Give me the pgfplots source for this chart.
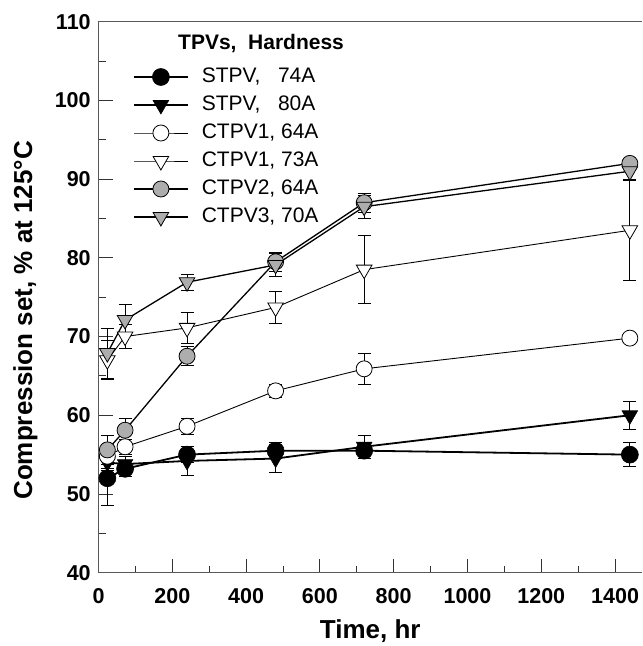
\documentclass[border=0pt]{standalone}
\usepackage{fontspec}
\setmainfont{Liberation Sans}
\usepackage{pgfplots}
\usepackage{pgfplotstable}
\usetikzlibrary{calc}
\pgfplotsset{compat=1.18}
\definecolor{lgray}{gray}{0.68}

\pgfplotstableread{
t y e
24 52.0 3.4
72 53.2 1.0
240 55.0 1.0
480 55.5 1.0
720 55.5 1.0
1440 55.0 1.5
}\stpvA
\pgfplotstableread{
t y e
24 54.0 1.0
72 53.8 1.0
240 54.2 1.8
480 54.5 1.8
720 56.0 1.5
1440 60.0 1.8
}\stpvB
\pgfplotstableread{
t y e
24 54.8 1.5
72 56.0 1.0
240 58.6 1.0
480 63.1 0.8
720 65.9 2.0
1440 69.8 0.5
}\ctpvA
\pgfplotstableread{
t y e
24 67.0 2.5
72 70.0 1.5
240 71.1 2.0
480 73.7 2.0
720 78.5 4.3
1440 83.5 6.3
}\ctpvB
\pgfplotstableread{
t y e
24 55.6 1.8
72 58.1 1.5
240 67.5 1.2
480 79.5 1.2
720 87.0 1.2
1440 92.0 0.6
}\ctpvC
\pgfplotstableread{
t y e
24 67.9 3.2
72 72.1 2.0
240 76.9 1.0
480 79.1 1.5
720 86.5 1.5
1440 91.0 1.0
}\ctpvD

\begin{document}
\begin{tikzpicture}
\begin{axis}[
  name=ax,
  scale only axis,
  width=543.5pt, height=551pt,
  xmin=0, xmax=1473, ymin=40, ymax=110,
  xtick={0,200,...,1400}, ytick={40,50,...,110},
  minor x tick num=1, minor y tick num=1,
  axis x line=box, axis y line=left,
  x axis line style={-}, y axis line style={-},
  xtick pos=bottom, ytick pos=left,
  tick align=inside,
  major tick length=14pt, minor tick length=7pt,
  every tick/.style={black!80, line width=0.9pt},
  axis line style={line width=1.2pt, black!65},
  tick label style={font=\fontsize{21.5}{24}\selectfont\bfseries},
  xticklabel style={yshift=-11.8pt},
  yticklabel style={xshift=-4.3pt},
  /pgf/number format/assume math mode=true,
  /pgf/number format/1000 sep={},
  legend style={draw=none, fill=none, at={(rel axis cs:0,1)}, anchor=north west,
    xshift=34.5pt, yshift=-44.8pt, inner sep=0pt, outer sep=0pt,
    font=\fontsize{21}{24}\selectfont, row sep=7pt,
    nodes={inner sep=0pt, text height=16pt, text depth=5pt},
    /tikz/every odd column/.append style={column sep=13pt}},
  legend cell align=left,
  legend image code/.code={\draw[mark repeat=2,mark phase=2,#1] plot coordinates {(0pt,0pt) (27pt,0pt) (54pt,0pt)};},
  error bars/y dir=both, error bars/y explicit,
  error bars/error bar style={black, line width=0.7pt},
  error bars/error mark options={rotate=90, mark size=6.5pt, black, line width=0.7pt},
]
\addplot[black, line width=1.8pt, mark=*, mark size=8.5pt, mark options={solid, fill=black, line width=0.6pt}]
  table[x=t, y=y, y error=e] {\stpvA};
\addlegendentry{STPV,\ \ \ 74A}
\addplot[black, line width=1.8pt, mark=triangle*, mark size=9pt, mark options={solid, fill=black, rotate=180, line width=0.6pt}]
  table[x=t, y=y, y error=e] {\stpvB};
\addlegendentry{STPV,\ \ \ 80A}
\addplot[black, line width=0.9pt, mark=*, mark size=8pt, mark options={solid, fill=white, line width=0.8pt}]
  table[x=t, y=y, y error=e] {\ctpvA};
\addlegendentry{CTPV1, 64A}
\addplot[black, line width=0.9pt, mark=triangle*, mark size=9pt, mark options={solid, fill=white, rotate=180, line width=0.8pt}]
  table[x=t, y=y, y error=e] {\ctpvB};
\addlegendentry{CTPV1, 73A}
\addplot[black, line width=1.3pt, mark=*, mark size=8pt, mark options={solid, fill=lgray, line width=0.8pt}]
  table[x=t, y=y, y error=e] {\ctpvC};
\addlegendentry{CTPV2, 64A}
\addplot[black, line width=1.3pt, mark=triangle*, mark size=9pt, mark options={solid, fill=lgray, rotate=180, line width=0.8pt}]
  table[x=t, y=y, y error=e] {\ctpvD};
\addlegendentry{CTPV3, 70A}
\end{axis}
\node[anchor=base west, font=\fontsize{21}{24}\selectfont\bfseries, inner sep=0pt]
  at ($(ax.north west)+(79.5pt,-27.8pt)$) {TPVs,\ \ Hardness};
\node[anchor=base, font=\fontsize{26}{30}\selectfont\bfseries, inner sep=0pt]
  at ($(ax.south)+(0pt,-66pt)$) {Time, hr};
\node[anchor=center, rotate=90, font=\fontsize{26}{30}\selectfont\bfseries, inner sep=0pt]
  at ($(ax.south west)!0.458!(ax.north west)+(-73pt,0pt)$) {Compression set, \% at 125\textdegree C};
\pgfresetboundingbox
\path ($(ax.south west)+(-98.5pt,-73.3pt)$) rectangle ($(ax.north east)+(0pt,21.7pt)$);
\end{tikzpicture}
\end{document}
